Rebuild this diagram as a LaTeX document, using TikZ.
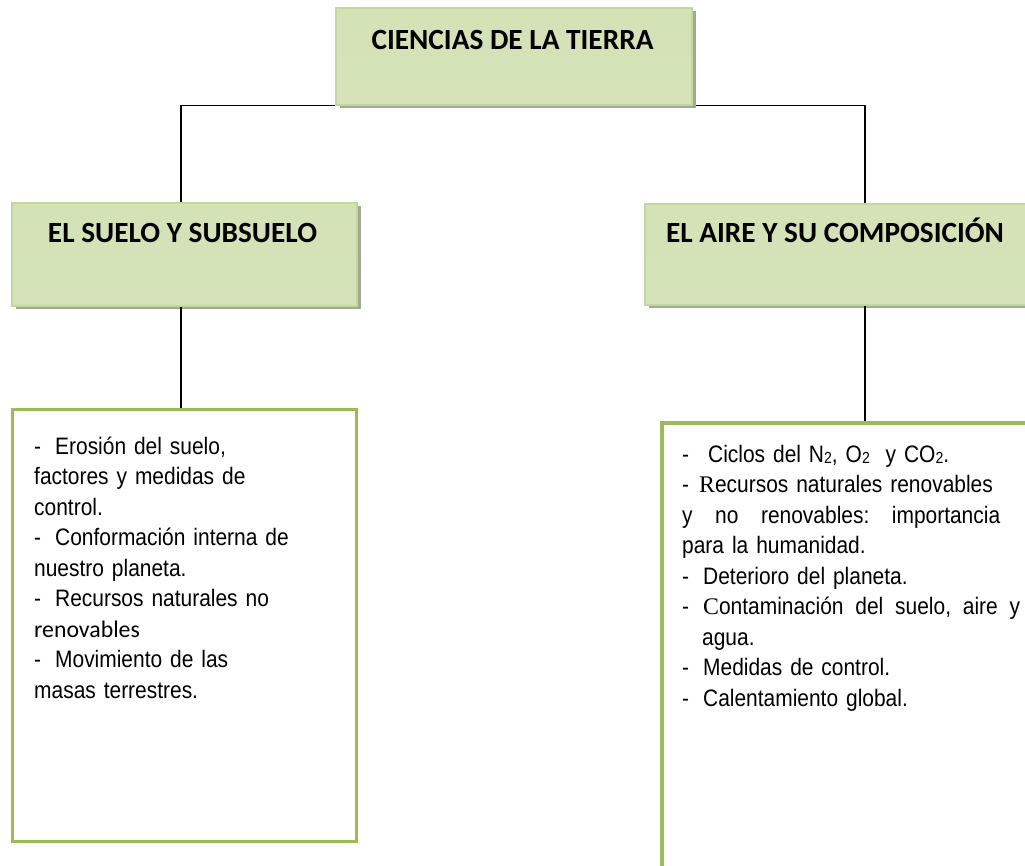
\documentclass[tikz,border=0pt]{standalone}
\usepackage{fontspec}
\setmainfont{Liberation Sans}[FakeStretch=0.88]
\newfontfamily\hdrfont{Carlito}
\newfontfamily\timesfont{Liberation Serif}
\usetikzlibrary{shadows}
\definecolor{hdrborder}{HTML}{C3D69B}
\definecolor{hdrtop}{HTML}{D4E2B6}
\definecolor{hdrmid}{HTML}{F7FAF2}
\definecolor{hdrbot}{HTML}{D6E3BA}
\definecolor{shadowc}{HTML}{A3A894}
\definecolor{boxgreen}{HTML}{9BBB59}
\newcommand{\subtwo}{\raisebox{-1.2pt}{\fontsize{16}{16}\selectfont 2}}
\pgfdeclarelayer{background}
\pgfsetlayers{background,main}
\begin{document}
\begin{tikzpicture}[x=1pt,y=-1pt,
  hdrbox/.style={draw=hdrborder, line width=1.3pt, top color=hdrtop, middle color=hdrmid, bottom color=hdrbot,
    drop shadow={shadow xshift=3.5pt, shadow yshift=-3.5pt, fill=shadowc, opacity=1}, inner sep=0pt},
  hdrtext/.style={font=\hdrfont\bfseries\fontsize{29.3}{33}\selectfont, inner sep=0pt, anchor=base},
  contentbox/.style={draw=boxgreen, line width=3.2pt, fill=white, inner sep=0pt},
  bodytext/.style={font=\fontsize{23.8}{30.5}\selectfont, align=left, inner sep=0pt, anchor=north west},
  link/.style={draw=black, line width=1.4pt}]
\useasboundingbox (0,0) rectangle (1025,866);
\clip (0,0) rectangle (1025,866);
\begin{pgfonlayer}{background}
\fill[white] (0,0) rectangle (1025,866);
\end{pgfonlayer}

% header boxes
\node[hdrbox, minimum width=356pt, minimum height=97pt] (top) at (514,56.5) {};
\node[hdrbox, minimum width=345pt, minimum height=103pt] (lhdr) at (184.5,254.5) {};
\node[hdrbox, minimum width=440pt, minimum height=101pt] (rhdr) at (865,254.5) {};

% content boxes
\node[contentbox, minimum width=344pt, minimum height=432pt] (lbox) at (184.5,625.5) {};
\node[contentbox, minimum width=406pt, minimum height=477pt] (rbox) at (865,661.5) {};

% header texts
\node[hdrtext] (toptext) at (512.5,50) {CIENCIAS DE LA TIERRA};
\node[hdrtext] (ltext) at (182.5,243) {EL SUELO Y SUBSUELO};
\node[hdrtext] (rtext) at (835,243) {EL AIRE Y SU COMPOSICIÓN};

% content texts
\node[bodytext, text width=320pt] (lcontent) at (34,432.6) {\strut-\hspace{14pt}Erosión del suelo,\\
factores y medidas de\\
control.\\
-\hspace{14pt}Conformación interna de\\
nuestro planeta.\\
-\hspace{14pt}Recursos naturales no\\
{\hdrfont renovables}\\
-\hspace{14pt}Movimiento de las\\
masas terrestres.};

\node[bodytext, text width=340pt] (rcontent) at (682,440.6) {\strut-\hspace{19pt}Ciclos del N\subtwo, O\subtwo\ \ y CO\subtwo.\\
-\hspace{10pt}{\timesfont R}ecursos naturales renovables\\
\makebox[318pt][l]{y\hfill no\hfill renovables:\hfill importancia}\\
para la humanidad.\\
-\hspace{14pt}Deterioro del planeta.\\
\makebox[338pt][l]{-\hspace{14pt}{\timesfont C}ontaminación\hfill del\hfill suelo,\hfill aire\hfill y}\\
\hspace{20pt}agua.\\
-\hspace{14pt}Medidas de control.\\
-\hspace{14pt}Calentamiento global.};

% connectors
\begin{pgfonlayer}{background}
\draw[link] ([xshift=-3.5pt]lhdr.north) |- (top.south) -| (rhdr.north);
\end{pgfonlayer}
\draw[link] ([xshift=-3.5pt]lhdr.south) -- ([xshift=-3.5pt]lbox.north);
\draw[link] (rhdr.south) -- (rbox.north);
\end{tikzpicture}
\end{document}
